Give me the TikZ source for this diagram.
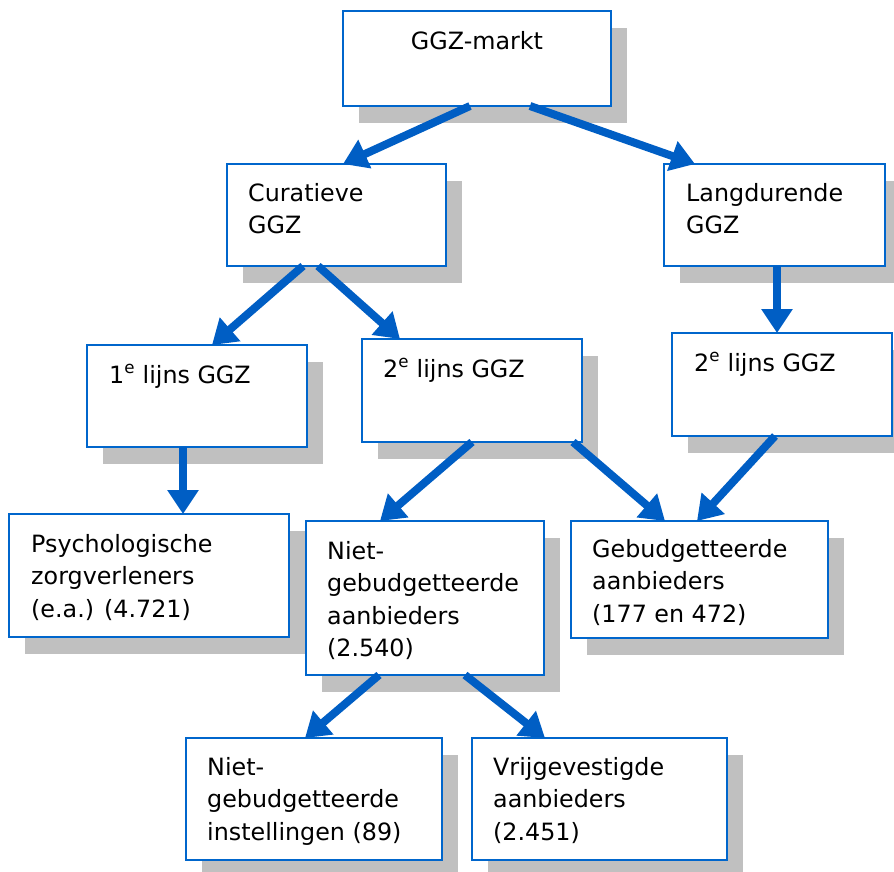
\documentclass[tikz,border=0pt]{standalone}
\usepackage{fontspec}
\setmainfont{DejaVu Sans}
\usetikzlibrary{arrows.meta,shadows}
\definecolor{boxblue}{RGB}{0,102,204}
\definecolor{arrowblue}{RGB}{0,94,196}
\definecolor{shadowgray}{RGB}{192,192,192}
\begin{document}
\begin{tikzpicture}[x=1pt,y=-1pt,
  box/.style={draw=boxblue, line width=2pt, fill=white, anchor=north west, inner sep=0pt, outer sep=0pt,
    general shadow={fill=shadowgray, shadow xshift=16pt, shadow yshift=-17pt}},
  lbl/.style={font=\fontsize{23.8}{32.5}\selectfont, align=left, inner sep=0pt, anchor=north west},
  lbl1/.style={font=\fontsize{23.8}{32.5}\selectfont, inner sep=0pt, anchor=base west},
  arr/.style={draw=arrowblue, line width=8pt, -{Triangle[length=24pt,width=30pt]}}]
\useasboundingbox (0,0) rectangle (894,871);

% boxes
\node[box, minimum width=268pt, minimum height=95pt]  (m)  at (343,11)  {};
\node[box, minimum width=219pt, minimum height=102pt] (c)  at (227,164) {};
\node[box, minimum width=221pt, minimum height=102pt] (l)  at (664,164) {};
\node[box, minimum width=220pt, minimum height=102pt] (e1) at (87,345)  {};
\node[box, minimum width=220pt, minimum height=103pt] (s2) at (362,339) {};
\node[box, minimum width=220pt, minimum height=103pt] (r2) at (672,333) {};
\node[box, minimum width=280pt, minimum height=123pt] (p)  at (9,514)   {};
\node[box, minimum width=238pt, minimum height=154pt] (na) at (306,521) {};
\node[box, minimum width=257pt, minimum height=117pt] (g)  at (571,521) {};
\node[box, minimum width=256pt, minimum height=122pt] (ni) at (186,738) {};
\node[box, minimum width=255pt, minimum height=122pt] (v)  at (472,738) {};

% texts
\node[font=\fontsize{23.8}{32.5}\selectfont, inner sep=0pt, anchor=base] (tm) at (477,49) {GGZ-markt};
\node[lbl] (tc)  at (248,178.25) {\strut Curatieve\\GGZ};
\node[lbl] (tl)  at (686,178.25) {\strut Langdurende\\GGZ};
\node[lbl1] (te1) at (109,383) {1\textsuperscript{e} lijns GGZ};
\node[lbl1] (ts2) at (383,377) {2\textsuperscript{e} lijns GGZ};
\node[lbl1] (tr2) at (694,371) {2\textsuperscript{e} lijns GGZ};
\node[lbl] (tp)  at (31,529.25)  {\strut Psychologische\\zorgverleners\\(e.a.) (4.721)};
\node[lbl] (tna) at (327,536.25) {\strut Niet-\\gebudgetteerde\\aanbieders\\(2.540)};
\node[lbl] (tg)  at (592,534.25) {\strut Gebudgetteerde\\aanbieders\\(177 en 472)};
\node[lbl] (tni) at (207,752.25) {\strut Niet-\\gebudgetteerde\\instellingen (89)};
\node[lbl] (tv)  at (493,752.25) {\strut Vrijgevestigde\\aanbieders\\(2.451)};

% arrows
\draw[arr] ([xshift=-7pt]m.south)    -- ([xshift=6.5pt]c.north);
\draw[arr] ([xshift=53pt]m.south)    -- ([xshift=-79.5pt]l.north);
\draw[arr] ([xshift=-33.5pt]c.south) -- ([xshift=15pt]e1.north);
\draw[arr] ([xshift=-18.5pt]c.south) -- ([xshift=-72pt]s2.north);
\draw[arr] ([xshift=2.5pt]l.south)   -- ([xshift=-5pt]r2.north);
\draw[arr] ([xshift=-14pt]e1.south)  -- ([xshift=34pt]p.north);
\draw[arr] (s2.south)                -- ([xshift=-45pt]na.north);
\draw[arr] ([xshift=101pt]s2.south)  -- ([xshift=-34.5pt]g.north);
\draw[arr] ([xshift=-7pt]r2.south)   -- ([xshift=-2.5pt]g.north);
\draw[arr] ([xshift=-46pt]na.south)  -- ([xshift=-9pt]ni.north);
\draw[arr] ([xshift=40pt]na.south)   -- ([xshift=-54.5pt]v.north);
\end{tikzpicture}
\end{document}
